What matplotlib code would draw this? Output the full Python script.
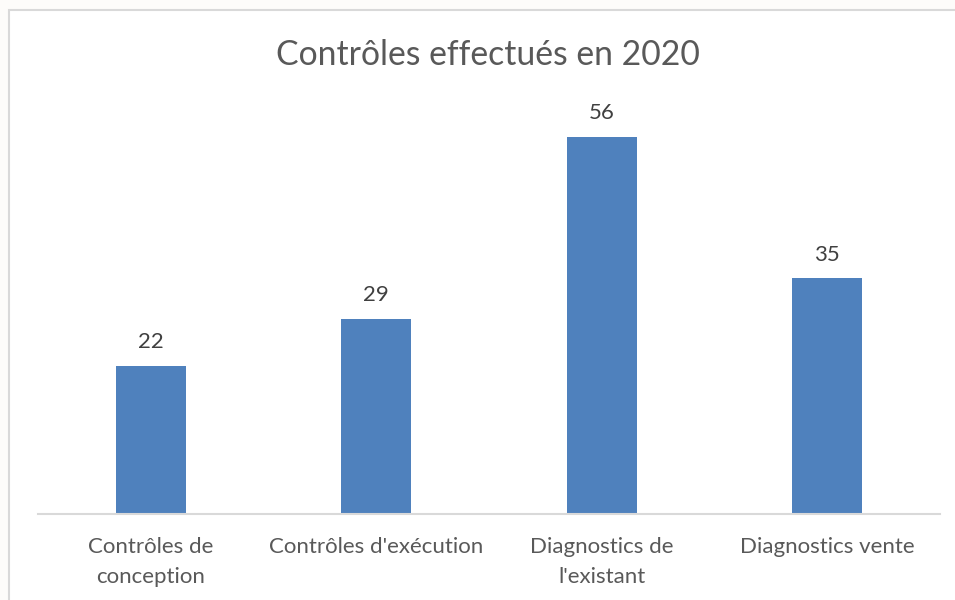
import matplotlib
matplotlib.use('Agg')
import matplotlib.pyplot as plt
import matplotlib.patches as mpatches

categories = ["Contrôles de\nconception", "Contrôles d'exécution",
              "Diagnostics de\nl'existant", "Diagnostics vente"]
values = [22, 29, 56, 35]
title = "Contrôles effectués en 2020"

BAR = '#4F81BD'
TXT = '#595959'
plt.rcParams['font.family'] = ['Lato', 'DejaVu Sans']

fig = plt.figure(figsize=(9.55, 6), dpi=100)
fig.patch.set_facecolor('#FDFCFA')

# chart frame (runs off the right and bottom edge)
frame = mpatches.Rectangle((8.5 / 955, -0.05), 1.1, (600 - 9.5) / 600 + 0.05,
                           transform=fig.transFigure, facecolor='white',
                           edgecolor='#D9D9D9', lw=1.5, zorder=-10)
fig.patches.append(frame)

ax = fig.add_axes([38 / 955, 86 / 600, 902 / 955, 404 / 600])
ax.set_facecolor('none')
x = range(len(categories))
bars = ax.bar(x, values, width=0.31, color=BAR, zorder=2)
ax.set_xlim(-0.5, len(categories) - 0.5)
ax.set_ylim(0, 60)

for b, v in zip(bars, values):
    ax.annotate(str(v), (b.get_x() + b.get_width() / 2, v),
                xytext=(0, 12.75), textcoords='offset points',
                ha='center', va='baseline', fontsize=16, color='#404040')

ax.set_xticks(list(x))
ax.set_xticklabels(categories, fontsize=16, color=TXT, linespacing=1.59)
ax.tick_params(axis='x', length=0, pad=16.75)
ax.set_yticks([])
for sp in ['top', 'right', 'left']:
    ax.spines[sp].set_visible(False)
ax.spines['bottom'].set_color('#D9D9D9')
ax.spines['bottom'].set_linewidth(1.5)

fig.text(488 / 955, 1 - 55 / 600, title, ha='center', va='center',
         fontsize=24.3, color=TXT)

fig.savefig('out.png', dpi=100, facecolor=fig.get_facecolor())
